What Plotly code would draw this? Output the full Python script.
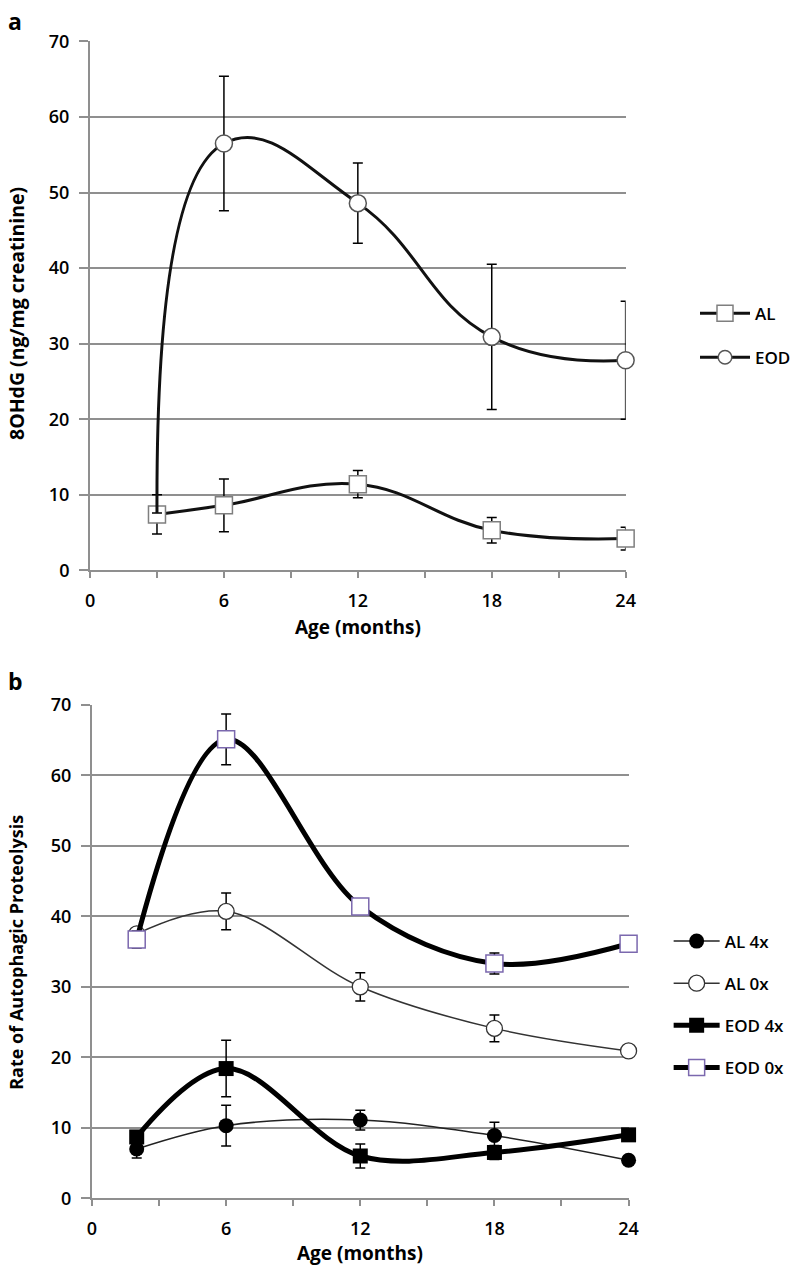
import plotly.graph_objects as go

# ---------------- data ----------------
# Panel a: 8OHdG
age_a = [3, 6, 12, 18, 24]
al_a = [7.4, 8.6, 11.4, 5.3, 4.2]
al_a_err = [2.6, 3.5, 1.8, 1.7, 1.5]
eod_a = [7.6, 56.5, 48.6, 30.9, 27.8]
eod_a_err = [0, 8.9, 5.3, 9.6, 7.8]

# Panel b: Rate of autophagic proteolysis
age_b = [2, 6, 12, 18, 24]
al4_b = [7.0, 10.3, 11.1, 8.9, 5.4]
al4_b_err = [1.3, 2.9, 1.4, 1.9, 0.5]
al0_b = [37.5, 40.7, 30.0, 24.1, 20.9]
al0_b_err = [0.8, 2.6, 2.0, 1.9, 0.8]
eod4_b = [8.7, 18.4, 6.0, 6.5, 9.0]
eod4_b_err = [0.8, 4.0, 1.7, 1.0, 0.6]
eod0_b = [36.7, 65.1, 41.4, 33.3, 36.1]
eod0_b_err = [1.2, 3.6, 1.0, 1.5, 0.5]

x_tickvals = [0, 3, 6, 9, 12, 15, 18, 21, 24]
x_ticktext = ["0", "", "6", "", "12", "", "18", "", "24"]
y_tickvals = [0, 10, 20, 30, 40, 50, 60, 70]

W, H = 796, 1277
FONT = "Open Sans"
GRID = "#8f8f8f"


def px_x(p):
    return p / W


def px_y(p):
    return 1 - p / H


def err(arr):
    return dict(type="data", array=arr, visible=True, color="black",
                thickness=1.5, width=5)


fig = go.Figure()

# panel a
fig.add_trace(go.Scatter(
    x=age_a, y=al_a, name="AL", mode="lines+markers",
    line=dict(color="#111111", width=3, shape="spline", smoothing=1.2),
    marker=dict(symbol="square", size=17, color="white", opacity=1,
                line=dict(color="#7f7f7f", width=1.5)),
    error_y=err(al_a_err), xaxis="x", yaxis="y",
    legend="legend", legendgroup="a1", cliponaxis=False))
fig.add_trace(go.Scatter(
    x=age_a, y=eod_a, name="EOD", mode="lines+markers",
    line=dict(color="#111111", width=3, shape="spline", smoothing=1.3),
    marker=dict(symbol="circle", size=[0, 17, 17, 17, 17], color="white",
                opacity=1, line=dict(color="#555555", width=1.5)),
    error_y=err(eod_a_err), xaxis="x", yaxis="y",
    legend="legend", legendgroup="a2", cliponaxis=False))

# panel b
fig.add_trace(go.Scatter(
    x=age_b, y=al4_b, name="AL 4x", mode="lines+markers",
    line=dict(color="#222222", width=1.5, shape="spline"),
    marker=dict(symbol="circle", size=15, color="black", opacity=1),
    error_y=err(al4_b_err), xaxis="x2", yaxis="y2",
    legend="legend2", legendgroup="b1", cliponaxis=False))
fig.add_trace(go.Scatter(
    x=age_b, y=al0_b, name="AL 0x", mode="lines+markers",
    line=dict(color="#333333", width=1.5, shape="spline"),
    marker=dict(symbol="circle", size=16, color="white", opacity=1,
                line=dict(color="#333333", width=1.3)),
    error_y=err(al0_b_err), xaxis="x2", yaxis="y2",
    legend="legend2", legendgroup="b2", cliponaxis=False))
fig.add_trace(go.Scatter(
    x=age_b, y=eod4_b, name="EOD 4x", mode="lines+markers",
    line=dict(color="black", width=5, shape="spline"),
    marker=dict(symbol="square", size=15, color="black", opacity=1),
    error_y=err(eod4_b_err), xaxis="x2", yaxis="y2",
    legend="legend2", legendgroup="b3", cliponaxis=False))
fig.add_trace(go.Scatter(
    x=age_b, y=eod0_b, name="EOD 0x", mode="lines+markers",
    line=dict(color="black", width=5, shape="spline"),
    marker=dict(symbol="square", size=17, color="white", opacity=1,
                line=dict(color="#7b68ae", width=1.5)),
    error_y=err(eod0_b_err), xaxis="x2", yaxis="y2",
    legend="legend2", legendgroup="b4", cliponaxis=False))

tick_font = dict(family=FONT, size=18, color="black", weight=600)
leg_font = dict(family=FONT, size=17, color="black", weight=600)


def tfont(size):
    return dict(family=FONT, size=size, color="black", weight=700)


xa = dict(range=[0, 24], tickmode="array", tickvals=x_tickvals,
          ticktext=x_ticktext, ticks="outside", ticklen=6, tickwidth=1.5,
          tickcolor=GRID, showline=True, linecolor=GRID, linewidth=2,
          showgrid=False, zeroline=False, tickfont=tick_font,
          ticklabelstandoff=7)
ya = dict(range=[0, 70], tickmode="array", tickvals=y_tickvals,
          ticks="outside", ticklen=9, tickwidth=1.5, tickcolor=GRID,
          showline=True, linecolor=GRID, linewidth=2,
          showgrid=True, gridcolor=GRID, gridwidth=1.5, zeroline=False,
          tickfont=tick_font, ticklabelstandoff=6)

fig.update_layout(
    width=W, height=H,
    margin=dict(l=0, r=0, t=0, b=0),
    paper_bgcolor="white", plot_bgcolor="white",
    font=dict(family=FONT, color="black"),
    xaxis=dict(xa, domain=[px_x(87), px_x(635)], anchor="y"),
    yaxis=dict(ya, domain=[px_y(568), px_y(29)], anchor="x"),
    xaxis2=dict(xa, domain=[px_x(89), px_x(638)], anchor="y2"),
    yaxis2=dict(ya, domain=[px_y(1208), px_y(705)], anchor="x2"),
    legend=dict(x=px_x(706), y=px_y(288), xanchor="left", yanchor="top",
                font=leg_font, tracegroupgap=19, bgcolor="rgba(0,0,0,0)",
                traceorder="grouped", itemwidth=50),
    legend2=dict(x=px_x(679), y=px_y(928), xanchor="left", yanchor="top",
                 font=leg_font, tracegroupgap=17, bgcolor="rgba(0,0,0,0)",
                 traceorder="grouped", itemwidth=46),
    annotations=[
        dict(text="a", x=px_x(1), y=px_y(8), xref="paper", yref="paper",
             xanchor="left", yanchor="middle", showarrow=False,
             font=tfont(23)),
        dict(text="b", x=px_x(1), y=px_y(681), xref="paper", yref="paper",
             xanchor="left", yanchor="middle", showarrow=False,
             font=tfont(23)),
        dict(text="8OHdG (ng/mg creatinine)", x=px_x(11), y=px_y(306),
             xref="paper", yref="paper", xanchor="center", yanchor="middle",
             textangle=-90, showarrow=False, font=tfont(19.5)),
        dict(text="Rate of Autophagic Proteolysis", x=px_x(11), y=px_y(957),
             xref="paper", yref="paper", xanchor="center", yanchor="middle",
             textangle=-90, showarrow=False, font=tfont(18)),
        dict(text="Age (months)", x=px_x(361), y=px_y(626),
             xref="paper", yref="paper", xanchor="center", yanchor="middle",
             showarrow=False, font=tfont(19)),
        dict(text="Age (months)", x=px_x(363), y=px_y(1264),
             xref="paper", yref="paper", xanchor="center", yanchor="middle",
             showarrow=False, font=tfont(19)),
    ],
)

fig.write_html("out.html", config={"displayModeBar": False},
               post_script="document.body.style.margin='0px';")
